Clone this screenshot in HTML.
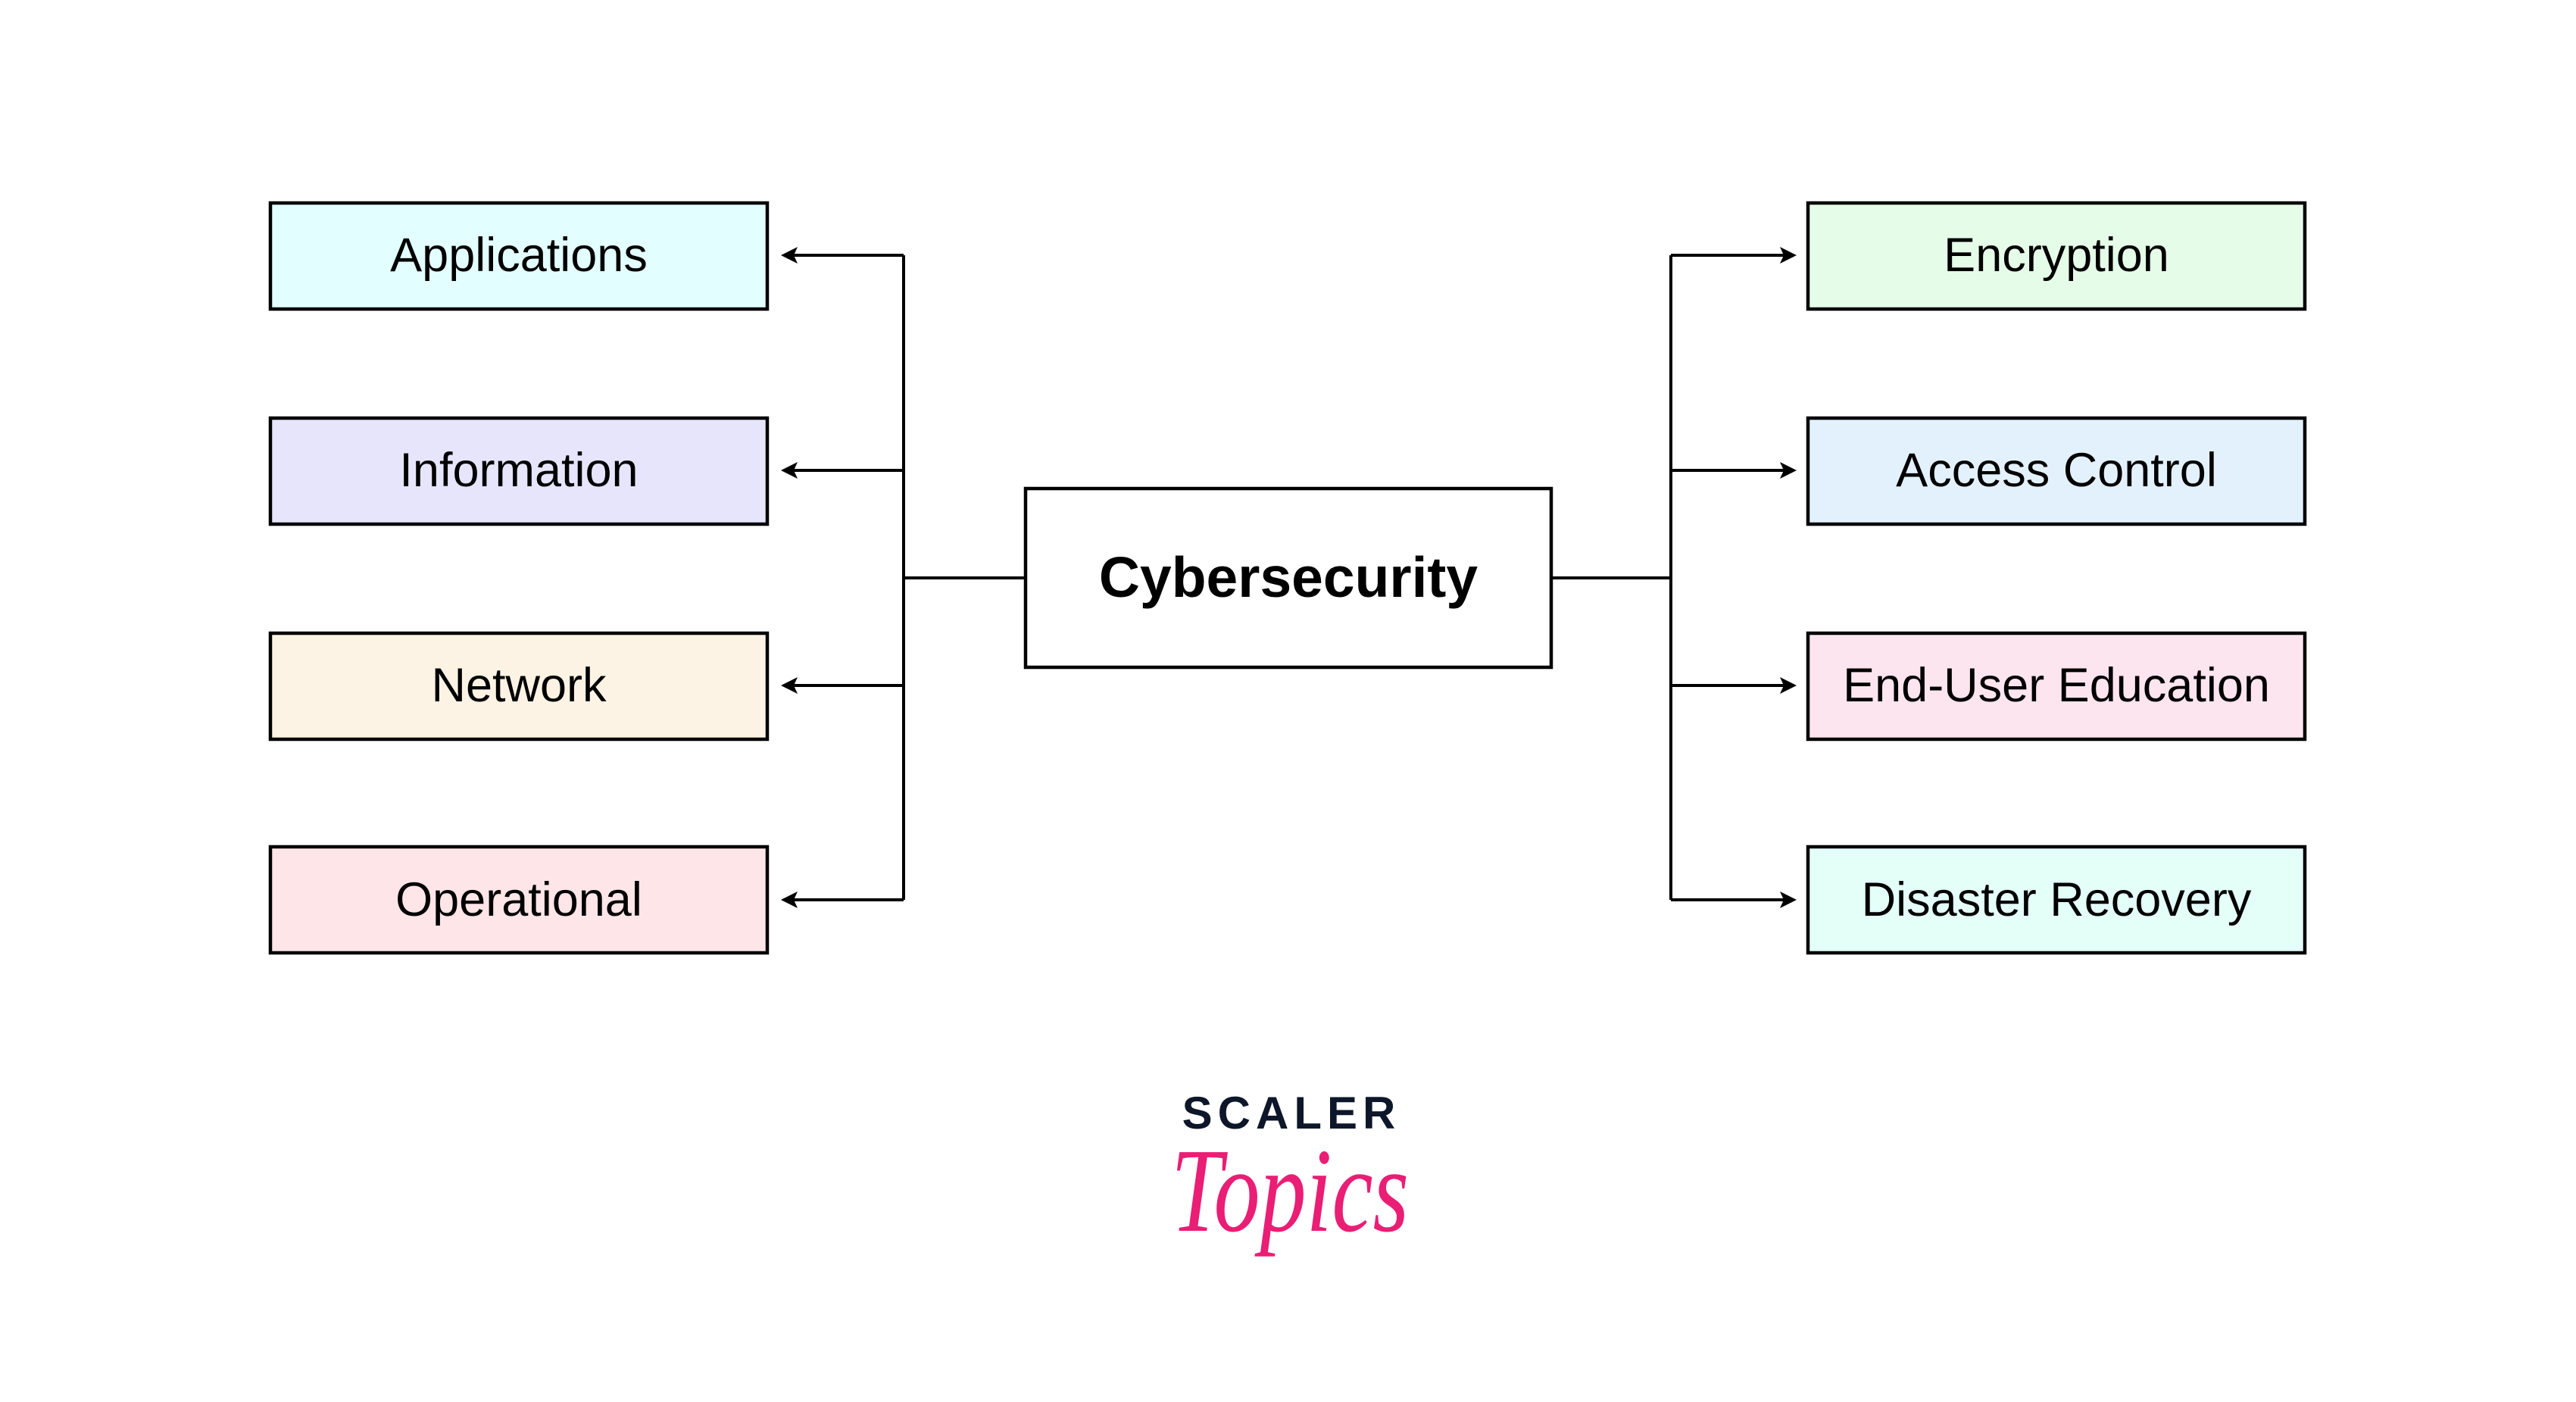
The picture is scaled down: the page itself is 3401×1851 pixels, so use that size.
<!DOCTYPE html>
<html><head><style>body{margin:0;background:#fff}svg{display:block}</style></head>
<body>
<svg width="3401" height="1851" viewBox="0 0 3401 1851" xmlns="http://www.w3.org/2000/svg">
<rect width="3401" height="1851" fill="#fff"/>
<g stroke="#000" stroke-width="4.5">
<rect x="357" y="268" width="656" height="140" fill="#e3fefe"/>
<rect x="357" y="552" width="656" height="140" fill="#e6e5fc"/>
<rect x="357" y="836" width="656" height="140" fill="#fdf3e4"/>
<rect x="357" y="1118" width="656" height="140" fill="#fde5e8"/>
<rect x="2387" y="268" width="656" height="140" fill="#e5fce8"/>
<rect x="2387" y="552" width="656" height="140" fill="#e3f1fd"/>
<rect x="2387" y="836" width="656" height="140" fill="#fde5ef"/>
<rect x="2387" y="1118" width="656" height="140" fill="#e4fef8"/>
<rect x="1354" y="645" width="694" height="236" fill="#fff"/>
</g>
<g stroke="#000" stroke-width="4" fill="none">
<path d="M1193 337 V1188 M1193 763 H1354 M1193 337 H1045 M1193 621 H1045 M1193 905 H1045 M1193 1188 H1045"/>
<path d="M2206 337 V1188 M2048 763 H2206 M2206 337 H2358 M2206 621 H2358 M2206 905 H2358 M2206 1188 H2358"/>
</g>
<g fill="#000">
<path d="M1031 337 l22 -11 l-5 11 l5 11z"/><path d="M1031 621 l22 -11 l-5 11 l5 11z"/>
<path d="M1031 905 l22 -11 l-5 11 l5 11z"/><path d="M1031 1188 l22 -11 l-5 11 l5 11z"/>
<path d="M2372 337 l-22 -11 l5 11 l-5 11z"/><path d="M2372 621 l-22 -11 l5 11 l-5 11z"/>
<path d="M2372 905 l-22 -11 l5 11 l-5 11z"/><path d="M2372 1188 l-22 -11 l5 11 l-5 11z"/>
</g>
<g font-family="Liberation Sans, sans-serif" font-size="63" text-anchor="middle" fill="#000">
<text x="685" y="358">Applications</text>
<text x="685" y="642">Information</text>
<text x="685" y="926">Network</text>
<text x="685" y="1209">Operational</text>
<text x="2715" y="358">Encryption</text>
<text x="2715" y="642">Access Control</text>
<text x="2715" y="926">End-User Education</text>
<text x="2715" y="1209">Disaster Recovery</text>
<text x="1701" y="788" font-size="75" font-weight="bold">Cybersecurity</text>
</g>
<text x="1705" y="1490" font-family="Liberation Sans, sans-serif" font-weight="bold" font-size="60" letter-spacing="7" text-anchor="middle" fill="#0d1729">SCALER</text>
<text transform="translate(1703 1625) scale(1 1.3)" font-family="Liberation Serif, serif" font-style="italic" font-size="122" text-anchor="middle" fill="#e91e74">Topics</text>
</svg>
</body></html>
